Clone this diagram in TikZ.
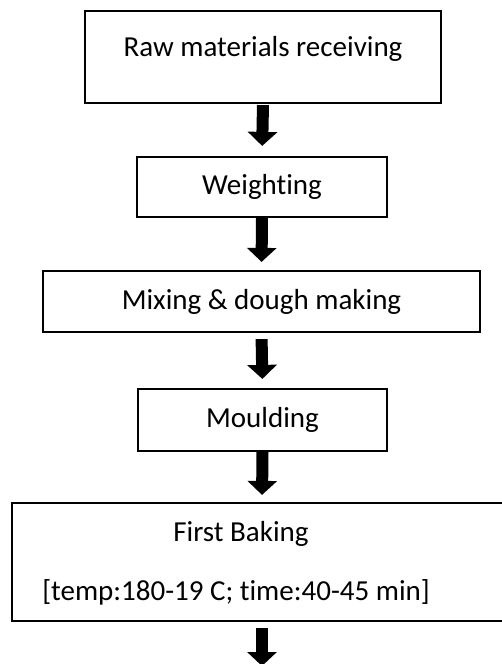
\documentclass[tikz,border=0pt]{standalone}
\usepackage{fontspec}
\setmainfont{Carlito}[Ligatures=NoCommon]
\usetikzlibrary{arrows.meta}
\begin{document}
\begin{tikzpicture}[x=1pt,y=-1pt,
  box/.style={draw=black,line width=2.2pt,fill=white,inner sep=0pt,
    font=\fontsize{29}{35}\selectfont},
  arr/.style={draw=black,line width=12pt,-{Triangle[width=29pt,length=14pt]}},
  lbl/.style={inner sep=0pt,font=\fontsize{29}{35}\selectfont}]
\useasboundingbox (0,0) rectangle (502,664);
\node[box,minimum width=356pt,minimum height=92pt] (raw) at (263,57) {};
\node[lbl] (rawt) at (263,49) {Raw materials receiving};
\node[box,minimum width=250pt,minimum height=60pt] (weigh) at (262,187) {Weighting};
\node[box,minimum width=437pt,minimum height=61pt] (mix) at (261.5,301.5) {Mixing \& dough making};
\node[box,minimum width=249pt,minimum height=62pt] (mould) at (262.5,420) {Moulding};
\node[box,minimum width=500pt,minimum height=118pt] (bake) at (262,562) {};
\node[lbl] (baket1) at (241,534) {First Baking};
\node[lbl] (baket2) at (236,592) {[temp:180-19 C; time:40-45 min]};
\coordinate (end) at (262,666);
\draw[arr,shorten <=1pt,shorten >=10pt] (raw.south) -- (weigh.north);
\draw[arr,shorten >=8pt] (weigh.south) -- (mix.north);
\draw[arr,shorten <=6pt,shorten >=9pt] (mix.south) -- (mould.north);
\draw[arr,shorten >=7pt] (mould.south) -- (bake.north);
\draw[arr,shorten <=6pt] (bake.south) -- (end);
\end{tikzpicture}
\end{document}
